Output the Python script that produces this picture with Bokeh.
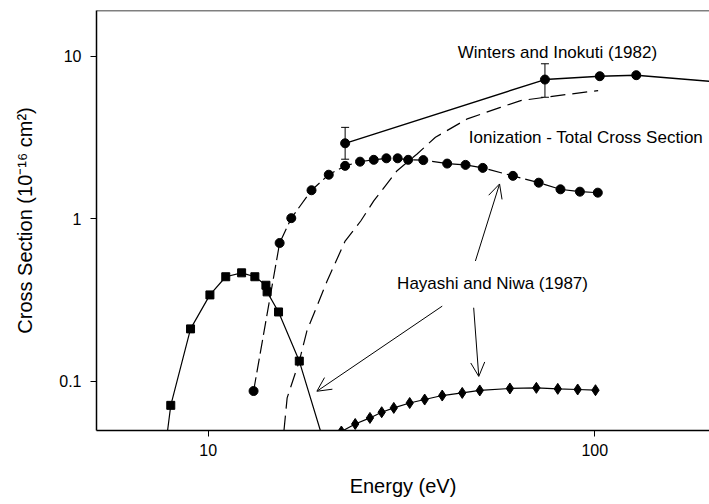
from bokeh.plotting import figure
from bokeh.models import (Range1d, FixedTicker, Span, Label, Arrow, OpenHead,
                          Whisker, TeeHead, ColumnDataSource)
from bokeh.embed import file_html
from bokeh.resources import INLINE

# ---------------- data (energy in eV, cross section in 1e-16 cm^2) ----------------
# Hayashi and Niwa (1987) - low-energy channel (squares)
hn_low_E = [8.0, 9.0, 10.1, 11.1, 12.2, 13.2, 14.1, 14.2, 15.2, 17.2]
hn_low_S = [0.071, 0.21, 0.34, 0.44, 0.465, 0.44, 0.39, 0.355, 0.267, 0.133]
# curve through them, running down to the axis on both sides
hn_low_line_E = [7.85, 8.0, 9.0, 10.1, 11.1, 12.2, 13.2, 14.1, 14.2, 15.2, 17.2, 19.5]
hn_low_line_S = [0.0497, 0.071, 0.21, 0.34, 0.44, 0.465, 0.44, 0.39, 0.355, 0.267, 0.133, 0.0497]

# Hayashi and Niwa (1987) - middle channel (circles, dashed)
hn_mid_E = [13.1, 15.3, 16.4, 18.5, 20.5, 22.6, 24.7, 26.8, 28.9, 30.9, 32.9, 36.0,
            41.5, 46.3, 51.3, 61.4, 71.6, 81.5, 91.5, 101.8]
hn_mid_S = [0.087, 0.71, 1.01, 1.50, 1.87, 2.12, 2.25, 2.31, 2.36, 2.36, 2.31, 2.30,
            2.19, 2.15, 2.06, 1.84, 1.67, 1.52, 1.47, 1.45]

# Hayashi and Niwa (1987) - high-threshold channel (diamonds)
hn_dia_E = [22.1, 24.0, 26.2, 28.1, 30.2, 33.2, 36.3, 40.3, 45.4, 50.4, 60.3, 70.6,
            80.2, 90.3, 100.4]
hn_dia_S = [0.049, 0.0545, 0.0594, 0.0644, 0.0685, 0.0734, 0.0771, 0.0816, 0.0847,
            0.0877, 0.0902, 0.091, 0.0897, 0.0889, 0.088]

# Winters and Inokuti (1982) (circles, solid)
wi_E = [22.6, 74.3, 103.0, 128.0]
wi_S = [2.92, 7.21, 7.56, 7.67]
wi_line_E = [22.6, 74.3, 103.0, 128.0, 198.0]
wi_line_S = [2.92, 7.21, 7.56, 7.67, 7.04]
wi_err_E = [22.6, 74.3]
wi_err_lo = [2.33, 5.61]
wi_err_hi = [3.66, 9.02]

# Ionization - total cross section (dashed curve)
ion_E = [15.7, 16.0, 17.2, 18.0, 20.3, 22.6, 24.8, 26.8, 30.8, 34.7, 38.7, 46.8,
         57.0, 64.3, 74.0, 102.0]
ion_S = [0.0497, 0.079, 0.133, 0.204, 0.414, 0.73, 0.97, 1.29, 1.98, 2.51, 3.18, 4.13,
         4.86, 5.35, 5.6, 6.17]

# axis ticks
x_ticks = [10, 100]
x_tick_labels = ["10", "100"]
y_ticks = [0.1, 1, 10]
y_tick_labels = ["0.1", "1", "10"]

# annotations
note_texts = ["Winters and Inokuti (1982)", "Ionization - Total Cross Section",
              "Hayashi and Niwa (1987)"]
note_E = [44.2, 47.2, 30.8]
note_S = [10.6, 3.18, 0.398]

arrow_start_E = [40.3, 49.1, 48.6]
arrow_start_S = [0.29, 0.55, 0.2835]
arrow_end_E = [19.1, 56.7, 50.1]
arrow_end_S = [0.0867, 1.64, 0.107]

FONT = "Liberation Sans"

p = figure(width=709, height=504, x_axis_type="log", y_axis_type="log",
           x_range=Range1d(5.14, 198), y_range=Range1d(0.0497, 19.2),
           output_backend="svg", toolbar_location=None,
           min_border_left=96, min_border_right=0, min_border_top=10,
           min_border_bottom=74)
p.xgrid.visible = False
p.ygrid.visible = False
p.outline_line_color = None
p.background_fill_color = "white"
p.border_fill_color = "white"

# top frame line
p.add_layout(Span(location=19.2, dimension="width", line_color="black", line_width=1.5))

for ax, ticks, labels in ((p.xaxis[0], x_ticks, x_tick_labels),
                          (p.yaxis[0], y_ticks, y_tick_labels)):
    ax.ticker = FixedTicker(ticks=ticks, minor_ticks=[])
    ax.major_label_overrides = {t: l for t, l in zip(ticks, labels)}
    ax.axis_line_color = "black"
    ax.axis_line_width = 1.5
    ax.major_tick_in = 0
    ax.major_tick_out = 6
    ax.major_tick_line_width = 1
    ax.minor_tick_in = 0
    ax.minor_tick_out = 0
    ax.major_label_text_font = FONT
    ax.major_label_text_font_size = "16px"
    ax.major_label_text_color = "black"
    ax.axis_label_text_font = FONT
    ax.axis_label_text_font_size = "20px"
    ax.axis_label_text_font_style = "normal"
    ax.axis_label_text_color = "black"

p.xaxis.axis_label = "Energy (eV)"
p.xaxis.major_label_standoff = 7
p.xaxis.axis_label_standoff = 16
p.yaxis.axis_label = "Cross Section (10\u207b\u00b9\u2076 cm\u00b2)"
p.yaxis.major_label_standoff = 9
p.yaxis.axis_label_standoff = 20

# ionization total cross section (dashed, no markers)
p.line(ion_E, ion_S, line_color="black", line_width=1.2, line_dash="15 7")

# Winters and Inokuti
p.line(wi_line_E, wi_line_S, line_color="black", line_width=1.4)
err_src = ColumnDataSource(dict(E=wi_err_E, lo=wi_err_lo, hi=wi_err_hi))
p.add_layout(Whisker(source=err_src, base="E", lower="lo", upper="hi",
                     dimension="height", line_color="black", line_width=1,
                     upper_head=TeeHead(size=8, line_width=1, line_color="black"),
                     lower_head=TeeHead(size=8, line_width=1, line_color="black")))
p.scatter(wi_E, wi_S, marker="circle", size=9, color="black")

# Hayashi and Niwa, low channel
p.line(hn_low_line_E, hn_low_line_S, line_color="black", line_width=1.2)
p.scatter(hn_low_E, hn_low_S, marker="square", size=8, color="black")

# Hayashi and Niwa, middle channel
p.line(hn_mid_E, hn_mid_S, line_color="black", line_width=1.2, line_dash="14 5")
p.scatter(hn_mid_E, hn_mid_S, marker="circle", size=9, color="black")

# Hayashi and Niwa, diamonds
p.line(hn_dia_E, hn_dia_S, line_color="black", line_width=1.2)
p.scatter(hn_dia_E, hn_dia_S, marker="diamond", size=11, color="black")

for t, x, y in zip(note_texts, note_E, note_S):
    p.add_layout(Label(x=x, y=y, text=t, text_font=FONT, text_font_size="17px",
                       text_color="black", text_baseline="alphabetic", text_align="left"))

for xs, ys, xe, ye in zip(arrow_start_E, arrow_start_S, arrow_end_E, arrow_end_S):
    p.add_layout(Arrow(x_start=xs, y_start=ys, x_end=xe, y_end=ye,
                       line_color="black", line_width=1,
                       end=OpenHead(size=14, line_width=1, line_color="black")))

open("out.html", "w").write(file_html(p, INLINE))
